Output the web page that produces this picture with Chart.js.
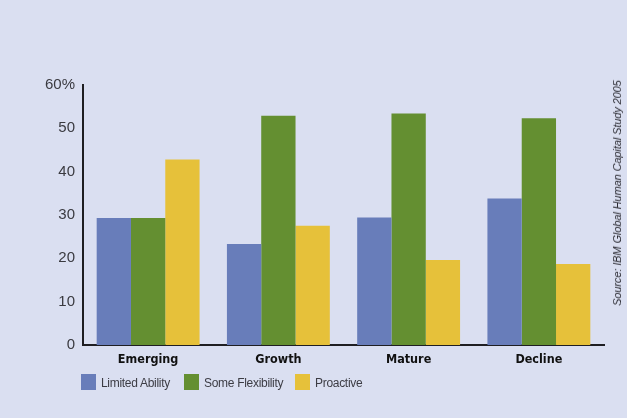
<!DOCTYPE html>
<html>
<head>
<meta charset="utf-8">
<script src="https://cdn.jsdelivr.net/npm/chart.js@4/dist/chart.umd.min.js"></script>
<style>
  html, body { margin: 0; padding: 0; }
  #wrap { position: relative; width: 627px; height: 418px; background: #dadff1; overflow: hidden; }
  #chart { position: absolute; left: 0; top: 0; }
  .legend { position: absolute; top: 374px; left: 81px; height: 16px; font: 12px 'Liberation Sans', Arial, sans-serif; color: #3c3c44; }
  .legend span.item { position: absolute; top: 0; white-space: nowrap; }
  .legend i { position: absolute; top: 0; left: 0; width: 15px; height: 16px; }
  .legend b { position: absolute; left: 20px; top: 2px; font-weight: normal; letter-spacing: -0.3px; }
  #source { position: absolute; left: 617px; top: 193px; transform: translate(-50%, -50%) rotate(-90deg);
    white-space: nowrap; font: italic 11px 'Liberation Sans', Arial, sans-serif; color: #2c2c34; letter-spacing: -0.1px; }
</style>
</head>
<body>
<div id="wrap">
  <canvas id="chart" width="627" height="418"></canvas>
  <div class="legend" id="legend"></div>
  <div id="source">Source: IBM Global Human Capital Study 2005</div>
</div>
<script>
// Stages and share of companies per response (%)
const stages = ['Emerging', 'Growth', 'Mature', 'Decline'];
const limitedAbility = [29.3, 23.3, 29.4, 33.8];
const someFlexibility = [29.3, 52.9, 53.4, 52.3];
const proactive = [42.8, 27.5, 19.6, 18.7];

const seriesNames = ['Limited Ability', 'Some Flexibility', 'Proactive'];
const seriesColors = ['#687dba', '#648f31', '#e6c13a'];
const yTicks = [0, 10, 20, 30, 40, 50, 60];

const datasets = [limitedAbility, someFlexibility, proactive].map((d, i) => ({
  label: seriesNames[i],
  data: d,
  backgroundColor: seriesColors[i],
  borderWidth: 0,
  categoryPercentage: 0.79,
  barPercentage: 1
}));

new Chart(document.getElementById('chart'), {
  type: 'bar',
  data: { labels: stages, datasets },
  options: {
    responsive: false,
    animation: false,
    layout: { padding: { top: 85, right: 23, left: 0, bottom: 0 } },
    plugins: { legend: { display: false }, tooltip: { enabled: false } },
    scales: {
      x: {
        grid: { display: false, drawTicks: false },
        border: { display: true, color: '#1e1e22', width: 2 },
        ticks: { color: '#111', padding: 7, font: { family: "'Liberation Sans Narrow', 'DejaVu Sans Condensed', Arial", weight: 'bold', size: 12.5 } },
        afterFit: s => { s.height = 73; }
      },
      y: {
        min: 0, max: 60,
        afterBuildTicks: s => { s.ticks = yTicks.map(v => ({ value: v })); },
        grid: { display: false, drawTicks: false },
        border: { display: true, color: '#1e1e22', width: 2 },
        ticks: {
          color: '#3a3a40', padding: 8,
          font: { family: "'Liberation Sans', Arial", size: 15 },
          callback: v => v === 60 ? v + '%' : v
        },
        afterFit: s => { s.width = 83; }
      }
    }
  }
});

// legend row under the axis
const legend = document.getElementById('legend');
const legendX = [0, 103, 214];
seriesNames.forEach((name, i) => {
  legend.innerHTML += `<span class="item" style="left:${legendX[i]}px"><i style="background:${seriesColors[i]}"></i><b>${name}</b></span>`;
});
</script>
</body>
</html>
